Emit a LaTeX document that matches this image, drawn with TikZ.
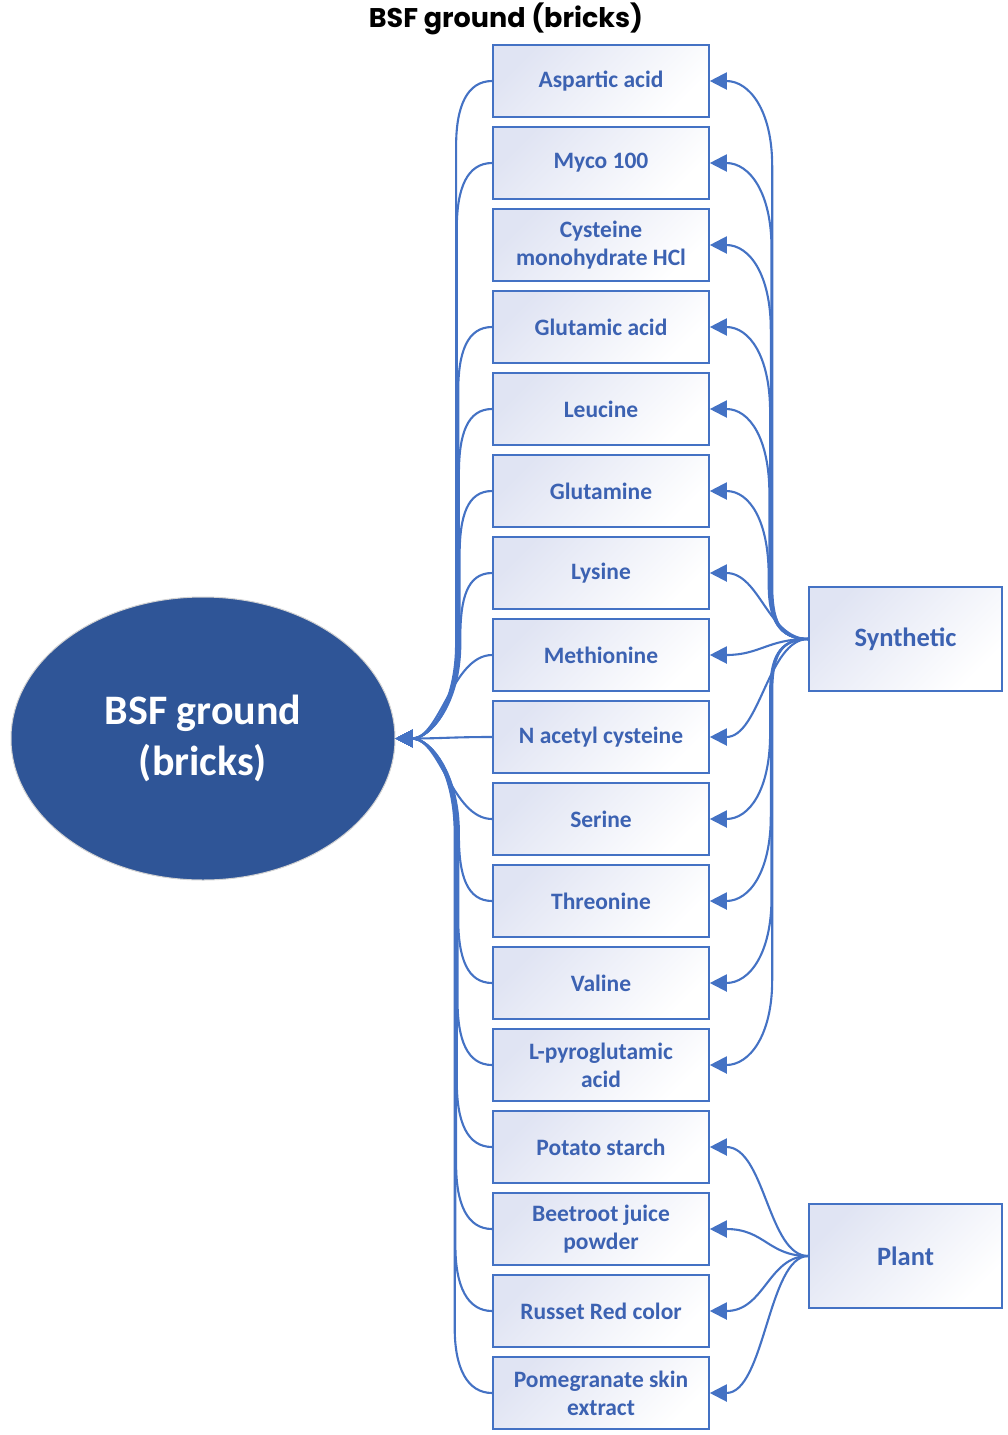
\documentclass[tikz,border=0pt]{standalone}
\usepackage{fontspec}
\setmainfont{Carlito}
\newfontfamily\titlefont{Poppins}
\usetikzlibrary{arrows.meta}
\usetikzlibrary{shapes.geometric}
\usetikzlibrary{calc}
\definecolor{linkblue}{RGB}{68,114,196}
\definecolor{textblue}{RGB}{60,98,178}
\definecolor{bsfblue}{RGB}{47,85,151}
\definecolor{boxtop}{RGB}{224,228,243}
\tikzset{item/.style = {draw=linkblue, line width=1.6pt, top color=boxtop, bottom color=white,
                        shading angle=45, minimum width=216pt, minimum height=72pt, inner sep=0pt,
                        align=center, text=textblue, font=\fontsize{23.5}{28}\selectfont\bfseries},
         group/.style = {item, minimum width=193pt, minimum height=104pt,
                         font=\fontsize{26.5}{28}\selectfont\bfseries},
         link/.style = {draw=linkblue, line width=2.1pt,
                        -{Triangle[length=17pt,width=17pt]}}}

\begin{document}
\begin{tikzpicture}[x=1pt, y=-1pt]
    \useasboundingbox (0,0) rectangle (1008,1435);
    \node [font=\titlefont\fontsize{27}{30}\selectfont\bfseries] (title) at (506, 19) {BSF ground (bricks)};

    \node [ellipse, fill=bsfblue, draw=gray!35, line width=1pt, minimum width=384pt, minimum height=283pt,
           align=center, text=white, font=\fontsize{42}{52}\selectfont\bfseries] (bsf) at (203, 738.5) {BSF ground\\[-1pt](bricks)};

    \foreach \i/\txt in {1/{Aspartic acid}, 2/{Myco 100}, 3/{Cysteine\\monohydrate HCl},
                         4/{Glutamic acid}, 5/{Leucine}, 6/{Glutamine}, 7/{Lysine},
                         8/{Methionine}, 9/{N acetyl cysteine}, 10/{Serine}, 11/{Threonine},
                         12/{Valine}, 13/{L-pyroglutamic\\acid}, 14/{Potato starch},
                         15/{Beetroot juice\\powder}, 16/{Russet Red color},
                         17/{Pomegranate skin\\extract}} {
      \node [item] (b\i) at (601, {81 + 82*(\i - 1)}) {\txt};
    }

    \node [group] (syn) at (905.5, 639) {Synthetic};
    \node [group] (plant) at (905.5, 1256) {Plant};

    \coordinate (ltrunk) at (461, 738.5);
    \coordinate (rtrunk) at (768, 639);

    % items into the ellipse (Cysteine has none)
    \foreach \i in {1,2,4,5,6,7,11,12,13,14,15,16,17} {
      \pgfmathsetmacro\dir{(\i < 9) ? 1 : -1}
      \pgfmathsetmacro\off{-0.7*abs(\i - 8)}
      \draw [link] (b\i.west) .. controls +(-25, 0) and +(0, -\dir*40) .. ($(b\i.west -| ltrunk) + (\off, \dir*65)$)
                   -- ($(ltrunk) + (\off, -\dir*95)$) .. controls +(0, \dir*60) and +(35, 0) .. (bsf.east);
    }
    \foreach \i in {8,9,10} {
      \draw [link] (b\i.west) .. controls +(-40, 0) and +(45, 0) .. (bsf.east);
    }

    % synthetic sources
    \foreach \i in {1,...,6,10,11,12,13} {
      \pgfmathsetmacro\dir{(\i < 8) ? -1 : 1}
      \pgfmathsetmacro\off{0.7*abs(\i - 7)}
      \draw [link] (syn.west) .. controls +(-30, 0) and +(0, -\dir*35) .. ($(rtrunk) + (\off, \dir*55)$)
                   -- ($(b\i.east -| rtrunk) + (\off, -\dir*85)$) .. controls +(0, \dir*55) and +(40, 0) .. (b\i.east);
    }
    \foreach \i in {7,8,9} {
      \draw [link] (syn.west) .. controls +(-40, 0) and +(50, 0) .. (b\i.east);
    }

    % plant sources
    \foreach \i in {14,...,17} {
      \draw [link] (plant.west) .. controls +(-40, 0) and +(55, 0) .. (b\i.east);
    }
\end{tikzpicture}
\end{document}
